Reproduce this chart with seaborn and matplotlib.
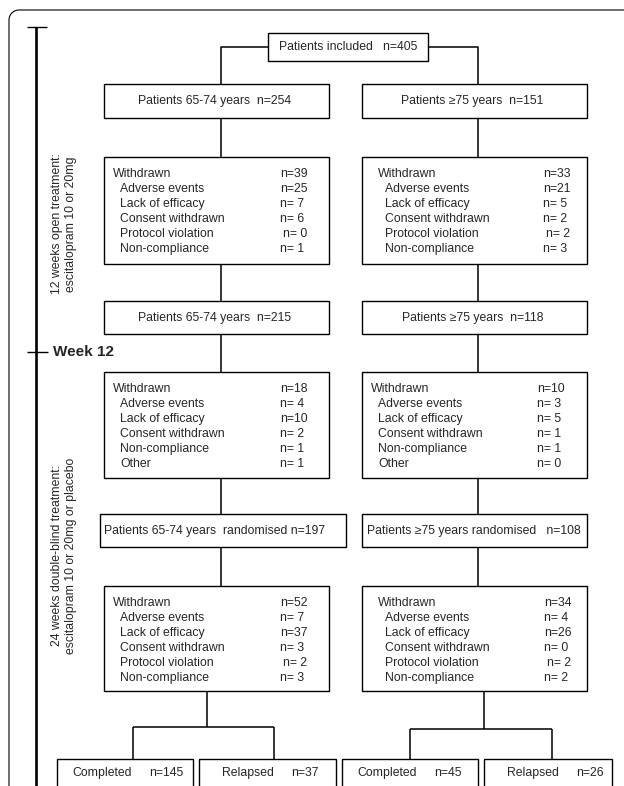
import numpy as np
import matplotlib
matplotlib.use("Agg")
import matplotlib.pyplot as plt
import seaborn as sns
from matplotlib.patches import Rectangle

# ---------------- data ----------------
total_included = 405
groups = ["Patients 65-74 years", "Patients \u226575 years"]
enrolled = [254, 151]
open_reasons = ["Adverse events", "Lack of efficacy", "Consent withdrawn",
                "Protocol violation", "Non-compliance"]
open_total = [39, 33]
open_counts = [[25, 7, 6, 0, 1], [21, 5, 2, 2, 3]]
week12_n = [215, 118]
prerand_reasons = ["Adverse events", "Lack of efficacy", "Consent withdrawn",
                   "Non-compliance", "Other"]
prerand_total = [18, 10]
prerand_counts = [[4, 10, 2, 1, 1], [3, 5, 1, 1, 0]]
randomised = [197, 108]
db_reasons = ["Adverse events", "Lack of efficacy", "Consent withdrawn",
              "Protocol violation", "Non-compliance"]
db_total = [52, 34]
db_counts = [[7, 37, 3, 2, 3], [4, 26, 0, 2, 2]]
completed = [145, 45]
relapsed = [37, 26]
phase_labels = ["12 weeks open treatment:\nescitalopram 10 or 20mg",
                "24 weeks double-blind treatment:\nescitalopram 10 or 20mg or placebo"]
milestone = "Week 12"

# ---------------- figure ----------------
sns.set_theme(style="white")
plt.rcParams["font.family"] = ["Liberation Sans", "DejaVu Sans"]
FS = 8.8
LW = 1.0

fig = plt.figure(figsize=(6.24, 7.86), dpi=100)
ax = fig.add_axes([0, 0, 1, 1])
ax.set_xlim(0, 624)
ax.set_ylim(786, 0)
ax.axis("off")


def box(x0, y0, x1, y1):
    ax.add_patch(Rectangle((x0, y0), x1 - x0, y1 - y0, fill=False,
                           edgecolor="black", linewidth=LW))


def line(xs, ys, lw=1.1):
    ax.plot(xs, ys, color="black", linewidth=lw, solid_capstyle="butt")


def fmt(v):
    return f"n={v:>2}"


# outer frame with rounded corner
r = 10
th = np.linspace(np.pi, 1.5 * np.pi, 20)
cx, cy = 9 + r, 10 + r
fx = np.concatenate([[9], cx + r * np.cos(th), [624]])
fy = np.concatenate([[786], cy + r * np.sin(th), [10]])
ax.plot(fx, fy, color="black", linewidth=0.8)

# timeline
line([36, 36], [27, 786], lw=1.9)
line([27, 47], [27, 27], lw=1.0)
line([27, 48], [352, 352], lw=1.0)
ax.text(53, 352, milestone, fontsize=11, fontweight="bold", ha="left", va="center")
ax.text(64, 224, phase_labels[0], rotation=90, ha="center", va="center",
        multialignment="center", fontsize=FS, linespacing=1.25)
ax.text(64, 556, phase_labels[1], rotation=90, ha="center", va="center",
        multialignment="center", fontsize=FS, linespacing=1.25)

# top box
box(268, 33, 428, 61)
ax.text(348, 47, f"Patients included   n={total_included}", fontsize=FS,
        ha="center", va="center")
line([268, 221, 221], [47, 47, 84])
line([428, 478, 478], [47, 47, 84])

left_x = [104, 362]
right_x = [329, 587]
conn_x = [221, 478]

# enrolled boxes
for i in range(2):
    box(left_x[i], 84, right_x[i], 118)
    ax.text((left_x[i] + right_x[i]) / 2 - 2, 101, f"{groups[i]}  n={enrolled[i]}",
            fontsize=FS, ha="center", va="center")
    line([conn_x[i], conn_x[i]], [118, 157])


def withdrawn_box(i, y0, y1, rows_y, total, reasons, counts, hx, ix, nx):
    box(left_x[i], y0, right_x[i], y1)
    ax.text(hx, rows_y[0], "Withdrawn", fontsize=FS, ha="left", va="center")
    ax.text(nx, rows_y[0], fmt(total), fontsize=FS, ha="left", va="center")
    for k, (lab, v) in enumerate(zip(reasons, counts)):
        ax.text(ix, rows_y[k + 1], lab, fontsize=FS, ha="left", va="center")
        extra = 3 if lab == "Protocol violation" else 0
        ax.text(nx + extra, rows_y[k + 1], fmt(v), fontsize=FS, ha="left", va="center")


rows1 = [174, 189, 204, 219, 234, 249]
rows2 = [389, 404, 419, 434, 449, 464]
rows3 = [603, 618, 633, 648, 663, 678]

hx1 = [113, 378]; ix1 = [120, 385]; nx1 = [280, 543]
hx2 = [113, 371]; ix2 = [120, 378]; nx2 = [280, 537]
hx3 = [113, 378]; ix3 = [120, 385]; nx3 = [280, 544]

for i in range(2):
    withdrawn_box(i, 157, 264, rows1, open_total[i], open_reasons, open_counts[i],
                  hx1[i], ix1[i], nx1[i])
    line([conn_x[i], conn_x[i]], [264, 301])
    box(left_x[i], 301, right_x[i], 334)
    ax.text((left_x[i] + right_x[i]) / 2 - 2, 318, f"{groups[i]}  n={week12_n[i]}",
            fontsize=FS, ha="center", va="center")
    line([conn_x[i], conn_x[i]], [334, 372])
    withdrawn_box(i, 372, 478, rows2, prerand_total[i], prerand_reasons,
                  prerand_counts[i], hx2[i], ix2[i], nx2[i])
    line([conn_x[i], conn_x[i]], [478, 514])

# randomised boxes
box(100, 514, 346, 547)
ax.text(104, 531, f"{groups[0]}  randomised n={randomised[0]}", fontsize=FS,
        ha="left", va="center")
box(362, 514, 587, 547)
ax.text(367, 531, f"{groups[1]} randomised   n={randomised[1]}", fontsize=FS,
        ha="left", va="center")

bottom_conn = [207, 484]
split_y = [727, 729]
split_x = [(133, 274), (410, 552)]
for i in range(2):
    line([conn_x[i], conn_x[i]], [547, 586])
    withdrawn_box(i, 586, 691, rows3, db_total[i], db_reasons, db_counts[i],
                  hx3[i], ix3[i], nx3[i])
    line([bottom_conn[i], bottom_conn[i]], [691, split_y[i]])
    a, b = split_x[i]
    line([a, b], [split_y[i], split_y[i]])
    line([a, a], [split_y[i], 759])
    line([b, b], [split_y[i], 759])

# outcome boxes (cut at bottom of figure)
outcome_boxes = [(57, 193), (199, 336), (342, 478), (484, 612)]
outcome_vals = [completed[0], relapsed[0], completed[1], relapsed[1]]
outcome_labels = ["Completed", "Relapsed", "Completed", "Relapsed"]
for (x0, x1), lab, v in zip(outcome_boxes, outcome_vals and outcome_labels, outcome_vals):
    box(x0, 759, x1, 800)
    off = 15 if lab == "Completed" else 23
    ax.text(x0 + off, 773, lab, fontsize=FS, ha="left", va="center")
    ax.text(x0 + 92, 773, f"n={v}", fontsize=FS, ha="left", va="center")

fig.savefig("out.png", dpi=100)
